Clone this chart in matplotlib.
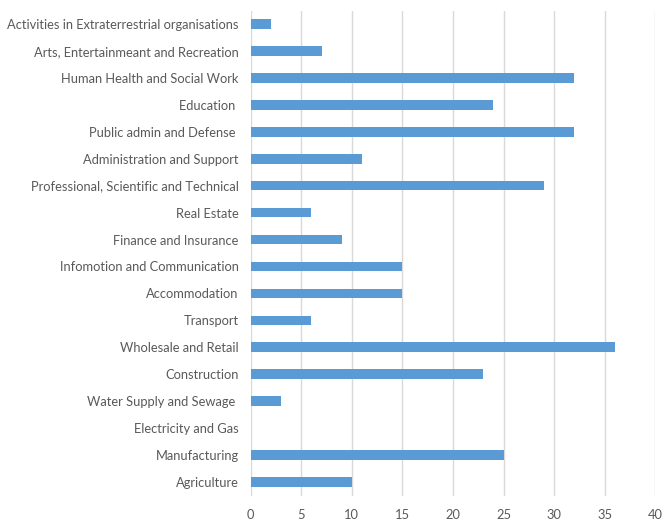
import matplotlib
matplotlib.use("Agg")
import matplotlib.pyplot as plt

categories = [
    "Agriculture",
    "Manufacturing",
    "Electricity and Gas",
    "Water Supply and Sewage ",
    "Construction",
    "Wholesale and Retail",
    "Transport",
    "Accommodation",
    "Infomotion and Communication",
    "Finance and Insurance",
    "Real Estate",
    "Professional, Scientific and Technical",
    "Administration and Support",
    "Public admin and Defense ",
    "Education ",
    "Human Health and Social Work",
    "Arts, Entertainmeant and Recreation",
    "Activities in Extraterrestrial organisations",
]
values = [10, 25, 0, 3, 23, 36, 6, 15, 15, 9, 6, 29, 11, 32, 24, 32, 7, 2]
xticks = [0, 5, 10, 15, 20, 25, 30, 35, 40]

plt.rcParams['font.family'] = ['Lato', 'DejaVu Sans']

fig = plt.figure(figsize=(6.72, 5.30), dpi=100)
ax = fig.add_axes([250.7 / 672, 1 - 495.5 / 530, (655.3 - 250.7) / 672, (495.5 - 10.5) / 530])

y = list(range(len(categories)))
ax.barh(y, values, height=0.36, color="#5b9bd5", zorder=3)
ax.set_yticks(y)
ax.set_yticklabels(categories)
ax.set_ylim(-0.5, len(categories) - 0.5)
ax.set_xlim(0, 40)
ax.set_xticks(xticks)
ax.xaxis.grid(True, color="#d9d9d9", linewidth=1, zorder=0)
for s in ax.spines.values():
    s.set_visible(False)
ax.tick_params(axis="both", length=0, colors="#595959", labelsize=9.3)
ax.tick_params(axis="y", pad=8.6)
ax.tick_params(axis="x", pad=10)

fig.savefig("out.png", dpi=100)
